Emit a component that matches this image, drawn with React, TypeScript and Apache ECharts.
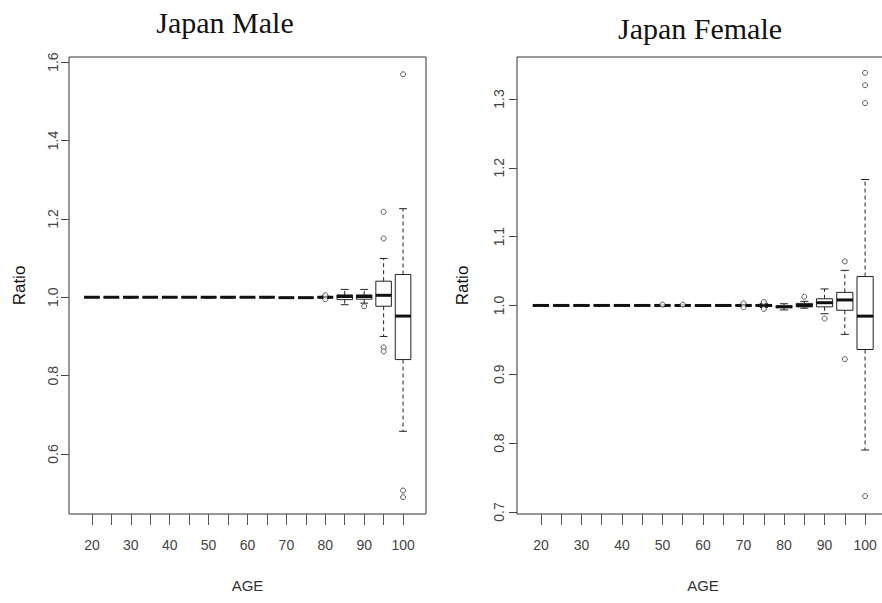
import React, { useEffect, useRef } from 'react';
import * as echarts from 'echarts';

// Age groups (x categories) and tick labels
const ages = [20, 25, 30, 35, 40, 45, 50, 55, 60, 65, 70, 75, 80, 85, 90, 95, 100];
const ageLabels = [20, 30, 40, 50, 60, 70, 80, 90, 100];

// Male boxplot stats: [lower whisker, Q1, median, Q3, upper whisker]
const maleStats: number[][] = [
  [0.9995, 0.9998, 1.0, 1.0002, 1.0005],
  [0.9995, 0.9998, 1.0, 1.0002, 1.0005],
  [0.998, 0.9997, 1.0, 1.0003, 1.002],
  [0.9995, 0.9998, 1.0, 1.0002, 1.0005],
  [0.9995, 0.9998, 1.0, 1.0002, 1.0005],
  [0.9995, 0.9998, 1.0, 1.0002, 1.0005],
  [0.998, 0.9997, 1.0, 1.0003, 1.002],
  [0.998, 0.9997, 1.0, 1.0003, 1.002],
  [0.9995, 0.9998, 1.0, 1.0002, 1.0005],
  [0.998, 0.9997, 1.0, 1.0003, 1.002],
  [0.9985, 0.9988, 0.999, 0.9992, 0.9995],
  [0.9985, 0.9988, 0.999, 0.9992, 0.9995],
  [0.997, 0.999, 1.0, 1.001, 1.003],
  [0.981, 0.994, 1.002, 1.006, 1.02],
  [0.985, 0.995, 1.002, 1.006, 1.02],
  [0.9, 0.977, 1.005, 1.041, 1.099],
  [0.658, 0.841, 0.952, 1.058, 1.226],
];
const maleOutlierAges = [80, 80, 90, 95, 95, 95, 95, 100, 100, 100];
const maleOutlierValues = [1.005, 0.995, 0.977, 1.15, 1.218, 0.872, 0.862, 1.569, 0.507, 0.49];

// Female boxplot stats
const femaleStats: number[][] = [
  [0.9997, 0.9999, 1.0, 1.0001, 1.0003],
  [0.999, 0.9997, 1.0, 1.0003, 1.001],
  [0.9997, 0.9999, 1.0, 1.0001, 1.0003],
  [0.9997, 0.9999, 1.0, 1.0001, 1.0003],
  [0.9997, 0.9999, 1.0, 1.0001, 1.0003],
  [0.9997, 0.9999, 1.0, 1.0001, 1.0003],
  [0.9997, 0.9999, 1.0, 1.0001, 1.0003],
  [0.9997, 0.9999, 1.0, 1.0001, 1.0003],
  [0.9985, 0.9998, 0.9999, 1.0001, 1.0005],
  [0.999, 0.9997, 1.0, 1.0003, 1.001],
  [0.9985, 0.9995, 1.0, 1.0005, 1.0015],
  [0.997, 0.999, 1.0, 1.001, 1.003],
  [0.9935, 0.997, 0.998, 0.9995, 1.0025],
  [0.996, 0.998, 1.0, 1.003, 1.006],
  [0.988, 0.998, 1.004, 1.0097, 1.024],
  [0.958, 0.993, 1.008, 1.019, 1.051],
  [0.79, 0.936, 0.9845, 1.042, 1.183],
];
const femaleOutlierAges = [50, 55, 70, 70, 75, 75, 85, 90, 95, 95, 100, 100, 100, 100];
const femaleOutlierValues = [1.0012, 1.0012, 1.003, 0.9975, 1.005, 0.995, 1.0126, 0.981, 1.064, 0.922, 1.338, 1.32, 1.294, 0.723];

const maleTicks = [0.6, 0.8, 1.0, 1.2, 1.4, 1.6];
const femaleTicks = [0.7, 0.8, 0.9, 1.0, 1.1, 1.2, 1.3];

const SANS = "'Liberation Sans', Arial, sans-serif";
const SERIF = "'Liberation Serif', 'Times New Roman', serif";

function renderBox(params: any, api: any) {
  const x = api.value(0);
  const lo = api.coord([x, api.value(1)]);
  const q1 = api.coord([x, api.value(2)]);
  const med = api.coord([x, api.value(3)]);
  const q3 = api.coord([x, api.value(4)]);
  const hi = api.coord([x, api.value(5)]);
  const w = api.size([4, 0])[0];
  const cx = lo[0];
  const half = w / 2;
  const st = w / 4;
  const stroke = '#222';
  return {
    type: 'group',
    children: [
      { type: 'line', shape: { x1: cx, y1: q3[1], x2: cx, y2: hi[1] }, style: { stroke, lineWidth: 1, lineDash: [4, 3] } },
      { type: 'line', shape: { x1: cx, y1: q1[1], x2: cx, y2: lo[1] }, style: { stroke, lineWidth: 1, lineDash: [4, 3] } },
      { type: 'line', shape: { x1: cx - st, y1: hi[1], x2: cx + st, y2: hi[1] }, style: { stroke, lineWidth: 1 } },
      { type: 'line', shape: { x1: cx - st, y1: lo[1], x2: cx + st, y2: lo[1] }, style: { stroke, lineWidth: 1 } },
      { type: 'rect', shape: { x: cx - half, y: q3[1], width: w, height: q1[1] - q3[1] }, style: { fill: '#fff', stroke, lineWidth: 1 } },
      { type: 'line', shape: { x1: cx - half, y1: med[1], x2: cx + half, y2: med[1] }, style: { stroke: '#111', lineWidth: 3 } },
    ],
  };
}

function makeX(gridIndex: number) {
  return {
    type: 'value',
    gridIndex,
    min: 14.1,
    max: 105.9,
    axisLine: { show: false },
    splitLine: { show: false },
    axisTick: { show: true, customValues: ages, length: 11, lineStyle: { color: '#555', width: 1 } },
    axisLabel: { customValues: ageLabels, margin: 24, color: '#444', fontSize: 14, fontFamily: SANS },
    name: 'AGE',
    nameLocation: 'middle',
    nameGap: 64,
    nameTextStyle: { fontSize: 15, color: '#333', fontFamily: SANS },
  };
}

function makeY(gridIndex: number, min: number, max: number, ticks: number[], margin: number, nameGap: number) {
  return {
    type: 'value',
    gridIndex,
    min,
    max,
    axisLine: { show: false },
    splitLine: { show: false },
    axisTick: { show: true, customValues: ticks, length: 8, lineStyle: { color: '#444', width: 1 } },
    axisLabel: {
      customValues: ticks,
      rotate: 90,
      margin,
      color: '#444',
      fontSize: 14,
      fontFamily: SANS,
      formatter: (v: number) => v.toFixed(1),
    },
    name: 'Ratio',
    nameLocation: 'middle',
    nameRotate: 90,
    nameGap,
    nameTextStyle: { fontSize: 17, color: '#111', fontFamily: SANS },
  };
}

export default function App() {
  const ref = useRef<HTMLDivElement>(null);
  useEffect(() => {
    if (!ref.current) return;
    const chart = echarts.init(ref.current, undefined, { renderer: 'svg' });
    const outlierStyle = { color: '#fff', borderColor: '#333', borderWidth: 1 };
    chart.setOption({
      animation: false,
      backgroundColor: '#fff',
      grid: [
        { left: 69, top: 57, width: 357, height: 457, show: true, borderColor: '#333', borderWidth: 1, backgroundColor: 'transparent', outerBoundsMode: 'none', containLabel: false },
        { left: 517, top: 57, width: 372, height: 457, show: true, borderColor: '#333', borderWidth: 1, backgroundColor: 'transparent', outerBoundsMode: 'none', containLabel: false },
      ],
      xAxis: [makeX(0), makeX(1)],
      yAxis: [
        makeY(0, 0.447, 1.613, maleTicks, 9, 41),
        makeY(1, 0.697, 1.361, femaleTicks, 11, 46),
      ],
      graphic: [
        { type: 'text', x: 225, y: 22, style: { text: 'Japan Male', font: `30px ${SERIF}`, fill: '#111', textAlign: 'center', textVerticalAlign: 'middle' } },
        { type: 'text', x: 700, y: 28, style: { text: 'Japan Female', font: `30px ${SERIF}`, fill: '#111', textAlign: 'center', textVerticalAlign: 'middle' } },
      ],
      series: [
        {
          type: 'custom',
          xAxisIndex: 0,
          yAxisIndex: 0,
          renderItem: renderBox,
          encode: { x: 0, y: [1, 2, 3, 4, 5] },
          data: maleStats.map((s, i) => [ages[i], ...s]),
        },
        {
          type: 'scatter',
          xAxisIndex: 0,
          yAxisIndex: 0,
          symbol: 'circle',
          symbolSize: 5,
          itemStyle: outlierStyle,
          data: maleOutlierAges.map((a, i) => [a, maleOutlierValues[i]]),
          z: 3,
        },
        {
          type: 'custom',
          xAxisIndex: 1,
          yAxisIndex: 1,
          renderItem: renderBox,
          encode: { x: 0, y: [1, 2, 3, 4, 5] },
          data: femaleStats.map((s, i) => [ages[i], ...s]),
        },
        {
          type: 'scatter',
          xAxisIndex: 1,
          yAxisIndex: 1,
          symbol: 'circle',
          symbolSize: 5,
          itemStyle: outlierStyle,
          data: femaleOutlierAges.map((a, i) => [a, femaleOutlierValues[i]]),
          z: 3,
        },
      ],
    });
    return () => chart.dispose();
  }, []);
  return (
    <div
      ref={ref}
      style={{ position: 'absolute', left: 0, top: 0, width: 882, height: 603, background: '#fff' }}
    />
  );
}
